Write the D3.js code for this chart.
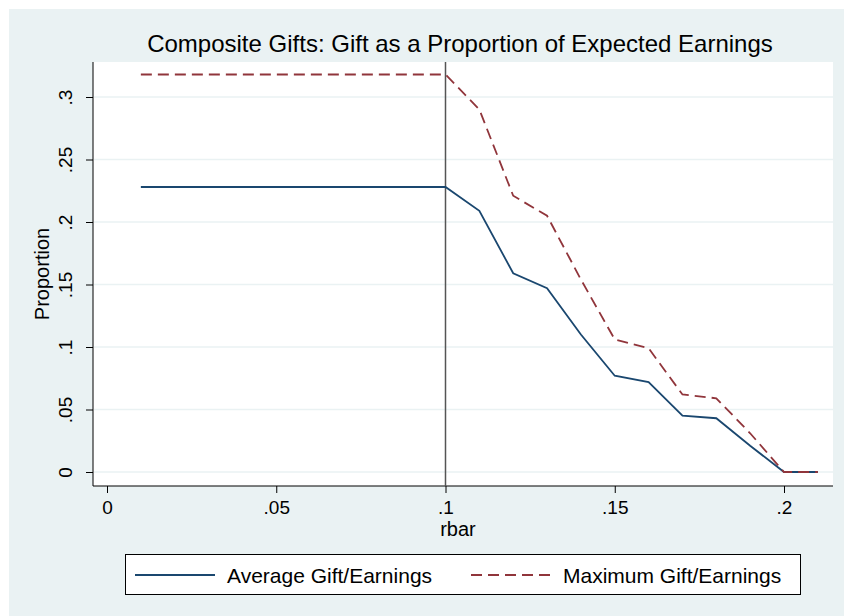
<!DOCTYPE html>
<html>
<head>
<meta charset="utf-8">
<script src="https://cdn.jsdelivr.net/npm/d3@7"></script>
<style>
  body { margin: 0; background: #fff; }
  text { font-family: "Liberation Sans", Arial, sans-serif; fill: #000; }
</style>
</head>
<body>
<svg id="chart" width="844" height="616"></svg>
<script>
// data
let rbar = [0.01, 0.02, 0.03, 0.04, 0.05, 0.06, 0.07, 0.08, 0.09, 0.10,
            0.11, 0.12, 0.13, 0.14, 0.15, 0.16, 0.17, 0.18, 0.19, 0.20, 0.21];
let avgGift = [0.228, 0.228, 0.228, 0.228, 0.228, 0.228, 0.228, 0.228, 0.228, 0.228,
               0.209, 0.159, 0.147, 0.110, 0.077, 0.072, 0.045, 0.043, 0.021, 0, 0];
let maxGift = [0.318, 0.318, 0.318, 0.318, 0.318, 0.318, 0.318, 0.318, 0.318, 0.318,
               0.290, 0.221, 0.205, 0.154, 0.106, 0.099, 0.062, 0.059, 0.031, 0, 0];
let xTicks = [0, 0.05, 0.1, 0.15, 0.2];
let xTickLabels = ["0", ".05", ".1", ".15", ".2"];
let yTicks = [0, 0.05, 0.1, 0.15, 0.2, 0.25, 0.3];
let yTickLabels = ["0", ".05", ".1", ".15", ".2", ".25", ".3"];
let refLine = 0.1;
let seriesNames = ["Average Gift/Earnings", "Maximum Gift/Earnings"];

let navy = "#1a476f", maroon = "#90353b";

let svg = d3.select("#chart");

// outer graph region
svg.append("rect")
    .attr("x", 9).attr("y", 9)
    .attr("width", 835).attr("height", 607)
    .attr("fill", "#eaf2f3");

let pLeft = 93, pRight = 833, pTop = 62, pBottom = 486;

svg.append("rect")
    .attr("x", pLeft).attr("y", pTop)
    .attr("width", pRight - pLeft).attr("height", pBottom - pTop)
    .attr("fill", "#fff");

let x = d3.scaleLinear().domain([0, 0.2]).range([107, 784]);
let y = d3.scaleLinear().domain([0, 0.3]).range([472, 97]);

// gridlines
svg.append("g")
    .selectAll("line")
    .data(yTicks)
    .enter().append("line")
    .attr("x1", pLeft + 1).attr("x2", pRight)
    .attr("y1", function (d) { return y(d); })
    .attr("y2", function (d) { return y(d); })
    .attr("stroke", "#eaf2f3")
    .attr("stroke-width", 1.5);

// y axis
let yAxis = svg.append("g")
    .attr("transform", "translate(" + pLeft + ",0)")
    .call(d3.axisLeft(y).tickValues(yTicks)
        .tickFormat(function (d, i) { return yTickLabels[i]; })
        .tickSize(7).tickSizeOuter(0));
yAxis.select(".domain").attr("d", "M0," + pTop + "V" + pBottom).attr("stroke", "#000");
yAxis.selectAll(".tick line").attr("stroke", "#000");
yAxis.selectAll(".tick text")
    .attr("font-size", 19)
    .attr("text-anchor", "middle")
    .attr("x", 0).attr("y", 0).attr("dy", 0)
    .attr("transform", "translate(-21,0) rotate(-90)")
    .style("font-family", "Liberation Sans, Arial, sans-serif");

// x axis
let xAxis = svg.append("g")
    .attr("transform", "translate(0," + pBottom + ")")
    .call(d3.axisBottom(x).tickValues(xTicks)
        .tickFormat(function (d, i) { return xTickLabels[i]; })
        .tickSize(7).tickSizeOuter(0));
xAxis.select(".domain").attr("d", "M" + pLeft + ",0H" + pRight).attr("stroke", "#000");
xAxis.selectAll(".tick line").attr("stroke", "#000");
xAxis.selectAll(".tick text")
    .attr("font-size", 19)
    .attr("y", 28).attr("dy", 0)
    .style("font-family", "Liberation Sans, Arial, sans-serif");

// axis titles
svg.append("text")
    .attr("x", 458).attr("y", 536)
    .attr("text-anchor", "middle")
    .attr("font-size", 20)
    .text("rbar");

svg.append("text")
    .attr("transform", "translate(49," + ((pTop + pBottom) / 2) + ") rotate(-90)")
    .attr("text-anchor", "middle")
    .attr("font-size", 20)
    .text("Proportion");

// title
svg.append("text")
    .attr("x", 460).attr("y", 52)
    .attr("text-anchor", "middle")
    .attr("font-size", 24)
    .text("Composite Gifts: Gift as a Proportion of Expected Earnings");

// reference line
svg.append("line")
    .attr("x1", x(refLine)).attr("x2", x(refLine))
    .attr("y1", pTop).attr("y2", pBottom)
    .attr("stroke", "#555")
    .attr("stroke-width", 1.5);

// series
let line = d3.line()
    .x(function (d) { return x(d[0]); })
    .y(function (d) { return y(d[1]); });

svg.append("path")
    .datum(d3.zip(rbar, avgGift))
    .attr("d", line)
    .attr("fill", "none")
    .attr("stroke", navy)
    .attr("stroke-width", 1.8);

svg.append("path")
    .datum(d3.zip(rbar, maxGift))
    .attr("d", line)
    .attr("fill", "none")
    .attr("stroke", maroon)
    .attr("stroke-width", 1.8)
    .attr("stroke-dasharray", "11,6");

// legend
let legend = svg.append("g");
legend.append("rect")
    .attr("x", 125.5).attr("y", 554.5)
    .attr("width", 675).attr("height", 40)
    .attr("fill", "#fff")
    .attr("stroke", "#000");

let legendItems = [
    { name: seriesNames[0], color: navy, dash: null, x0: 135 },
    { name: seriesNames[1], color: maroon, dash: "11,6", x0: 471 }
];
let item = legend.selectAll("g.item")
    .data(legendItems)
    .enter().append("g")
    .attr("class", "item");
item.append("line")
    .attr("x1", function (d) { return d.x0; })
    .attr("x2", function (d) { return d.x0 + 80; })
    .attr("y1", 575).attr("y2", 575)
    .attr("stroke", function (d) { return d.color; })
    .attr("stroke-width", 1.8)
    .attr("stroke-dasharray", function (d) { return d.dash; });
item.append("text")
    .attr("x", function (d) { return d.x0 + 92; })
    .attr("y", 583)
    .attr("font-size", 21)
    .text(function (d) { return d.name; });
</script>
</body>
</html>
